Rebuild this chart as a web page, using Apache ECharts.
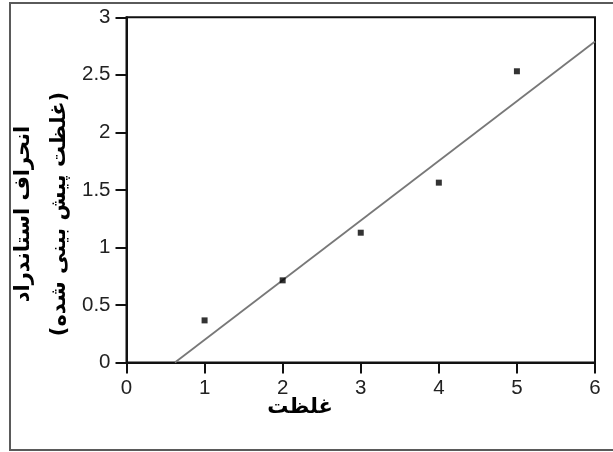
<!DOCTYPE html>
<html>
<head>
<meta charset="utf-8">
<script src="https://cdn.jsdelivr.net/npm/echarts@6/dist/echarts.min.js"></script>
<style>
  html, body { margin: 0; padding: 0; background: #fff; }
  #chart { width: 613px; height: 452px; }
</style>
</head>
<body>
<div id="chart"></div>
<script>
// Measured points: concentration vs. standard deviation of predicted concentration
const concentrations = [1, 2, 3, 4, 5];
const stdDeviations = [0.366, 0.714, 1.128, 1.563, 2.531];

// Fitted straight line, given by its two end points
const fitX = [0.62, 6];
const fitY = [0, 2.79];

// Axis ranges and tick steps
const xRange = [0, 6];
const xStep = 1;
const yRange = [0, 3];
const yStep = 0.5;

// Axis titles
const xTitle = 'غلظت';
const yTitleMain = 'انحراف استاندراد';
const yTitleSub = '(غلظت پیش بینی شده)';

const chart = echarts.init(document.getElementById('chart'), null, { renderer: 'canvas' });

const labelStyle = { fontFamily: 'Arial, sans-serif', fontSize: 20.5, color: '#222' };
const titleFont = 'bold 21px "DejaVu Sans", sans-serif';

chart.setOption({
  animation: false,
  backgroundColor: '#fff',
  grid: {
    left: 126.5, right: 18, top: 17.3, bottom: 89.5,
    show: true, borderColor: '#111', borderWidth: 2, backgroundColor: 'transparent'
  },
  xAxis: {
    type: 'value', min: xRange[0], max: xRange[1], interval: xStep,
    axisLine: { show: true, onZero: false, lineStyle: { color: '#111', width: 2 } },
    axisTick: { show: true, inside: false, length: 11, lineStyle: { color: '#111', width: 2 } },
    axisLabel: { margin: 15, fontFamily: labelStyle.fontFamily, fontSize: labelStyle.fontSize, color: labelStyle.color },
    splitLine: { show: false }
  },
  yAxis: {
    type: 'value', min: yRange[0], max: yRange[1], interval: yStep,
    axisLine: { show: true, onZero: false, lineStyle: { color: '#111', width: 2 } },
    axisTick: { show: true, inside: false, length: 11, lineStyle: { color: '#111', width: 2 } },
    axisLabel: { margin: 16, fontFamily: labelStyle.fontFamily, fontSize: labelStyle.fontSize, color: labelStyle.color },
    splitLine: { show: false }
  },
  graphic: [
    {
      type: 'rect', silent: true, z: -1,
      shape: { x: 10, y: 3, width: 640, height: 447 },
      style: { fill: 'none', stroke: '#5a5a5a', lineWidth: 2 }
    },
    {
      type: 'text', x: 300, y: 408,
      style: { text: xTitle, font: titleFont, fill: '#000', textAlign: 'center', textVerticalAlign: 'middle' }
    },
    {
      type: 'text', x: 24, y: 214, rotation: Math.PI / 2,
      style: { text: yTitleMain, font: titleFont, fill: '#000', textAlign: 'center', textVerticalAlign: 'middle' }
    },
    {
      type: 'text', x: 60, y: 214, rotation: Math.PI / 2,
      style: { text: yTitleSub, font: titleFont, fill: '#000', textAlign: 'center', textVerticalAlign: 'middle' }
    }
  ],
  series: [
    {
      type: 'line',
      data: fitX.map((x, i) => [x, fitY[i]]),
      symbol: 'none',
      lineStyle: { color: '#787878', width: 1.8 },
      z: 2
    },
    {
      type: 'scatter',
      data: concentrations.map((x, i) => [x, stdDeviations[i]]),
      symbol: 'rect',
      symbolSize: 6,
      itemStyle: { color: '#000' },
      z: 3
    }
  ]
});
</script>
</body>
</html>
